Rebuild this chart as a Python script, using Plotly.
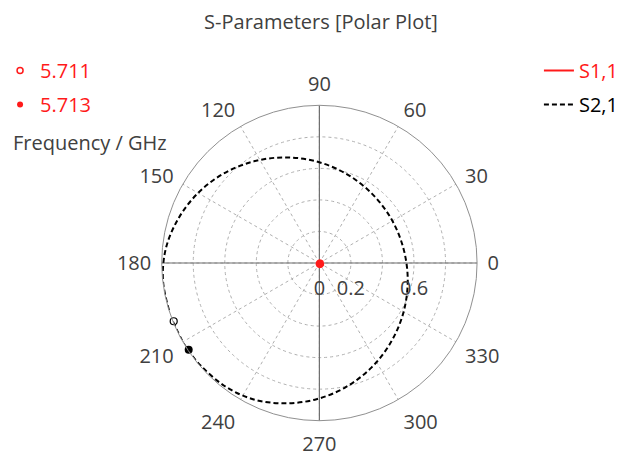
import plotly.graph_objects as go

# ---------------- data ----------------
chart_title = "S-Parameters [Polar Plot]"

s21_theta = [201.8, 209.2, 213.6, 220.6, 232.2, 244.0, 256.1, 268.8, 282.2, 296.6,
             312.3, 329.7, 348.9, 9.8, 31.6, 53.1, 73.3, 91.6, 108.2, 123.3,
             137.2, 150.2, 162.6, 174.6, 186.3, 197.8]
s21_r = [1.0, 1.0, 1.0, 0.995, 0.985, 0.961, 0.917, 0.864, 0.804, 0.740,
         0.676, 0.618, 0.571, 0.541, 0.535, 0.552, 0.591, 0.644, 0.705, 0.769,
         0.832, 0.889, 0.938, 0.978, 0.998, 1.0]

s11_theta = [0, 30, 60, 90, 120, 150, 180, 210, 240, 270, 300, 330, 360]
s11_r = [0.024, 0.022, 0.019, 0.017, 0.016, 0.016, 0.017, 0.020, 0.024, 0.027, 0.028, 0.027, 0.024]

marker_labels = ["5.711", "5.713"]
marker_theta = [201.8, 213.6]
marker_r = [0.995, 0.995]

radial_tickvals = [0, 0.2, 0.4, 0.6, 0.8]
radial_ticktext = ["0", "0.2", "", "0.6", ""]
angular_tickvals = [0, 30, 60, 90, 120, 150, 180, 210, 240, 270, 300, 330]
angular_ticktext = [str(v) for v in angular_tickvals]

FONT = "Open Sans"
FS = 20
TXT = "#404040"
RED = "#ff1a1a"

fig = go.Figure()

# solid cross lines through the centre
fig.add_trace(go.Scatterpolar(r=[1, 0, 1], theta=[0, 0, 180], mode="lines",
                              line=dict(color="#6e6e6e", width=1.2),
                              showlegend=False, hoverinfo="skip"))
fig.add_trace(go.Scatterpolar(r=[1, 0, 1], theta=[90, 0, 270], mode="lines",
                              line=dict(color="#6e6e6e", width=1.2),
                              showlegend=False, hoverinfo="skip"))

# S1,1 (tiny blob at the centre)
fig.add_trace(go.Scatterpolar(r=s11_r, theta=s11_theta, mode="lines",
                              line=dict(color=RED, width=2),
                              fill="toself", fillcolor=RED,
                              showlegend=False, hoverinfo="skip"))
fig.add_trace(go.Scatterpolar(r=[None], theta=[None], mode="lines",
                              line=dict(color=RED, width=2),
                              name="<span style='color:%s'>S1,1</span>" % RED,
                              legend="legend", legendgroup="a"))
# S2,1
fig.add_trace(go.Scatterpolar(r=s21_r, theta=s21_theta, mode="lines",
                              line=dict(color="black", width=2, dash="5px,3px", shape="spline"),
                              name="S2,1", legend="legend", legendgroup="b"))

# markers on curve
fig.add_trace(go.Scatterpolar(r=[marker_r[0]], theta=[marker_theta[0]], mode="markers",
                              marker=dict(symbol="circle-open", size=7, color="black",
                                          line=dict(width=1.2)),
                              showlegend=False, hoverinfo="skip"))
fig.add_trace(go.Scatterpolar(r=[marker_r[1]], theta=[marker_theta[1]], mode="markers",
                              marker=dict(symbol="circle", size=8, color="black"),
                              showlegend=False, hoverinfo="skip"))

# marker legend entries
fig.add_trace(go.Scatterpolar(r=[None], theta=[None], mode="markers",
                              marker=dict(symbol="circle-open", size=6, color=RED,
                                          line=dict(width=1.5)),
                              name=marker_labels[0], legend="legend2", legendgroup="m1"))
fig.add_trace(go.Scatterpolar(r=[None], theta=[None], mode="markers",
                              marker=dict(symbol="circle", size=6, color=RED),
                              name=marker_labels[1], legend="legend2", legendgroup="m2"))

fig.update_layout(
    width=624, height=457,
    margin=dict(l=0, r=0, t=0, b=0),
    paper_bgcolor="white",
    font=dict(family=FONT, size=FS, color=TXT),
    title=dict(text=chart_title, x=321 / 624, xanchor="center", y=1 - 22 / 457,
               yanchor="middle", yref="container",
               font=dict(family=FONT, size=FS, color=TXT)),
    polar=dict(
        domain=dict(x=[160 / 624, 480 / 624], y=[(457 - 423) / 457, (457 - 103) / 457]),
        bgcolor="white",
        radialaxis=dict(range=[0, 1], tickmode="array", tickvals=radial_tickvals,
                        ticktext=radial_ticktext, angle=0, side="clockwise",
                        showline=False, ticks="outside", ticklen=7,
                        tickcolor="rgba(0,0,0,0)",
                        gridcolor="#b0b0b0", griddash="dot", gridwidth=1,
                        tickfont=dict(family=FONT, size=FS, color=TXT)),
        angularaxis=dict(rotation=0, direction="counterclockwise", tickmode="array",
                         tickvals=angular_tickvals, ticktext=angular_ticktext,
                         showline=True, linecolor="#909090", linewidth=1,
                         ticks="outside", ticklen=6, tickcolor="rgba(0,0,0,0)",
                         gridcolor="#b0b0b0", griddash="dot", gridwidth=1,
                         tickfont=dict(family=FONT, size=FS, color=TXT)),
    ),
    legend=dict(x=1 + 5 / 624, xanchor="right", y=1 - 51 / 457, yanchor="top",
                bgcolor="rgba(0,0,0,0)", font=dict(family=FONT, size=FS, color="black"),
                tracegroupgap=5, traceorder="grouped"),
    legend2=dict(x=-4 / 624, xanchor="left", y=1 - 51 / 457, yanchor="top",
                 bgcolor="rgba(0,0,0,0)", font=dict(family=FONT, size=FS, color=RED),
                 tracegroupgap=5, traceorder="grouped", itemwidth=30),
    annotations=[dict(text="Frequency / GHz", x=7 / 624, xanchor="left",
                      y=1 - 143 / 457, yanchor="middle", xref="paper", yref="paper",
                      showarrow=False, font=dict(family=FONT, size=FS, color=TXT))],
)

fig.write_html("out.html")
